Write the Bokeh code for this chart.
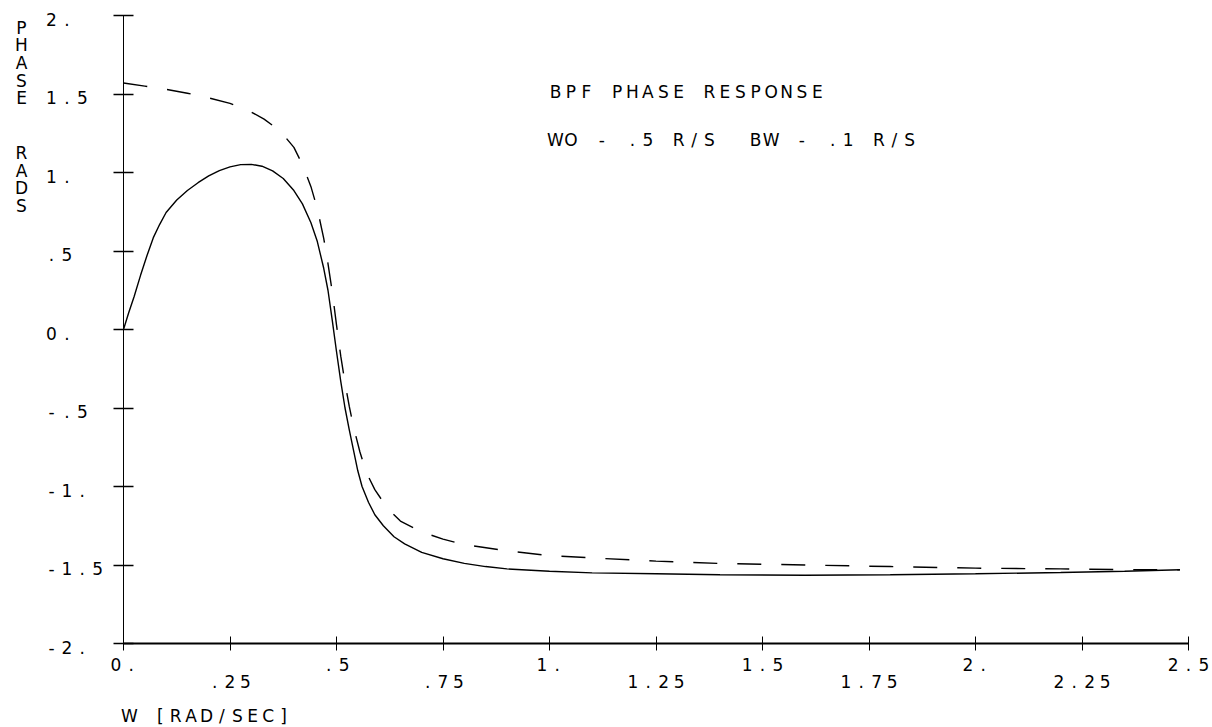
from bokeh.plotting import figure
from bokeh.models import ColumnDataSource, LabelSet, FixedTicker, Range1d, LinearAxis
from bokeh.core.properties import value
from bokeh.embed import file_html
from bokeh.resources import INLINE

# ---------------- data ----------------
w_solid = [0.0, 0.012, 0.025, 0.04, 0.055, 0.07, 0.085, 0.10, 0.125, 0.15, 0.175, 0.20,
           0.225, 0.25, 0.275, 0.30, 0.325, 0.35, 0.375, 0.40, 0.42, 0.44, 0.455, 0.47,
           0.48, 0.49, 0.50, 0.51, 0.52, 0.53, 0.54, 0.55, 0.56, 0.575, 0.59, 0.61, 0.635,
           0.66, 0.70, 0.75, 0.80, 0.85, 0.90, 1.0, 1.1, 1.25, 1.4, 1.6, 1.8, 2.0, 2.2,
           2.35, 2.48]
phase_solid = [0.0, 0.105, 0.21, 0.345, 0.47, 0.585, 0.67, 0.745, 0.825, 0.885, 0.935, 0.978,
               1.012, 1.036, 1.05, 1.052, 1.04, 1.01, 0.962, 0.885, 0.80, 0.68, 0.56, 0.39,
               0.25, 0.06, -0.14, -0.33, -0.50, -0.64, -0.77, -0.90, -1.0, -1.10, -1.18,
               -1.25, -1.32, -1.365, -1.42, -1.46, -1.49, -1.51, -1.525, -1.54, -1.55,
               -1.556, -1.562, -1.565, -1.562, -1.556, -1.548, -1.54, -1.53]

w_dashed = [0.0, 0.05, 0.10, 0.15, 0.20, 0.25, 0.30, 0.33, 0.36, 0.38, 0.40, 0.42, 0.44,
            0.455, 0.47, 0.48, 0.49, 0.50, 0.51, 0.52, 0.53, 0.54, 0.555, 0.57, 0.59, 0.62,
            0.65, 0.70, 0.75, 0.80, 0.90, 1.0, 1.1, 1.25, 1.4, 1.6, 1.8, 2.0, 2.2, 2.35, 2.48]
phase_dashed = [1.57, 1.55, 1.53, 1.505, 1.475, 1.44, 1.385, 1.34, 1.28, 1.225, 1.16, 1.05,
                0.91, 0.77, 0.58, 0.42, 0.24, 0.03, -0.17, -0.34, -0.49, -0.62, -0.78,
                -0.91, -1.02, -1.14, -1.22, -1.29, -1.335, -1.37, -1.41, -1.44, -1.455,
                -1.475, -1.49, -1.50, -1.51, -1.52, -1.525, -1.53, -1.53]

x_ticks = [0.0, 0.25, 0.5, 0.75, 1.0, 1.25, 1.5, 1.75, 2.0, 2.25, 2.5]
x_tick_labels = ["0.", ".25", ".5", ".75", "1.", "1.25", "1.5", "1.75", "2.", "2.25", "2.5"]
y_ticks = [-2.0, -1.5, -1.0, -0.5, 0.0, 0.5, 1.0, 1.5, 2.0]
y_tick_labels = ["-2.", "-1.5", "-1.", "-.5", "0.", ".5", "1.", "1.5", "2."]

title_lines = ["BPF PHASE RESPONSE", "WO - .5 R/S  BW - .1 R/S"]
y_axis_words = ["PHASE", "RADS"]
x_axis_label = "W [RAD/SEC]"

# ---------------- layout ----------------
W, H = 1212, 727
X0, X1, Y0, Y1 = 0.0, 2.5, -2.0, 2.0
FL, FR, FT, FB = 123, 1188, 15, 643          # plot box edges in pixels
PPX = (FR - FL) / (X1 - X0)
PPY = (FB - FT) / (Y1 - Y0)


def dx(px):
    return X0 + (px - FL) / PPX


def dy(py):
    return Y1 - (py - FT) / PPY


PITCH = 15.4
FONT = "DejaVu Sans"
chars = dict(x=[], y=[], text=[], xo=[])


def put(s, x, y, first_offset=0.0):
    for i, c in enumerate(s):
        if c == " ":
            continue
        chars["x"].append(x)
        chars["y"].append(y)
        chars["text"].append(c)
        chars["xo"].append(first_offset + i * PITCH)


# x tick labels in two alternating rows
for i, (t, lab) in enumerate(zip(x_ticks, x_tick_labels)):
    row_px = 664 if i % 2 == 0 else 681
    put(lab, t, dy(row_px), -(len(lab) - 1) * PITCH / 2)

# y tick labels, left aligned
for t, lab in zip(y_ticks, y_tick_labels):
    put(lab, dx(51), t - 3.5 / PPY)

# annotation text
put(title_lines[0], dx(555), dy(91))
put(title_lines[1], dx(555), dy(139))
put(x_axis_label, dx(129), dy(715))

# vertical stacked y-axis label
VP = 17.7
for i, c in enumerate(y_axis_words[0]):
    chars["x"].append(dx(21)); chars["y"].append(dy(27 + i * VP))
    chars["text"].append(c); chars["xo"].append(0)
for i, c in enumerate(y_axis_words[1]):
    chars["x"].append(dx(21)); chars["y"].append(dy(152.5 + i * VP))
    chars["text"].append(c); chars["xo"].append(0)

# ---------------- figure ----------------
p = figure(width=W, height=H,
           x_range=Range1d(dx(0), dx(W)), y_range=Range1d(dy(H), dy(0)),
           x_axis_location=None, y_axis_location=None,
           output_backend="svg", toolbar_location=None,
           min_border=0, min_border_left=0, min_border_right=0,
           min_border_top=0, min_border_bottom=0)
p.outline_line_color = None
p.grid.visible = False
p.background_fill_color = "white"
p.border_fill_color = "white"

xaxis = LinearAxis(fixed_location=Y0, bounds=(X0, X1), ticker=FixedTicker(ticks=x_ticks))
yaxis = LinearAxis(fixed_location=X0, bounds=(Y0, Y1), ticker=FixedTicker(ticks=y_ticks))
for ax in (xaxis, yaxis):
    ax.minor_tick_line_color = None
    ax.major_label_text_color = None
    ax.major_label_text_font_size = "1px"
    ax.axis_line_color = "black"
    ax.major_tick_line_color = "black"
xaxis.axis_line_width = 2
xaxis.major_tick_in = 7
xaxis.major_tick_out = 7
xaxis.major_tick_line_width = 1
yaxis.axis_line_width = 1
yaxis.major_tick_in = 10
yaxis.major_tick_out = 10
yaxis.major_tick_line_width = 1.5
p.add_layout(xaxis, "below")
p.add_layout(yaxis, "left")

p.line(w_solid, phase_solid, line_color="black", line_width=1.4)
p.line(w_dashed, phase_dashed, line_color="black", line_width=1.4, line_dash="24 20")

src = ColumnDataSource(chars)
labels = LabelSet(x="x", y="y", text="text", x_offset="xo", source=src,
                  text_font=value(FONT), text_font_size="17px",
                  text_align="center", text_baseline="middle", text_color="black")
p.add_layout(labels)

open("out.html", "w").write(file_html(p, INLINE))
